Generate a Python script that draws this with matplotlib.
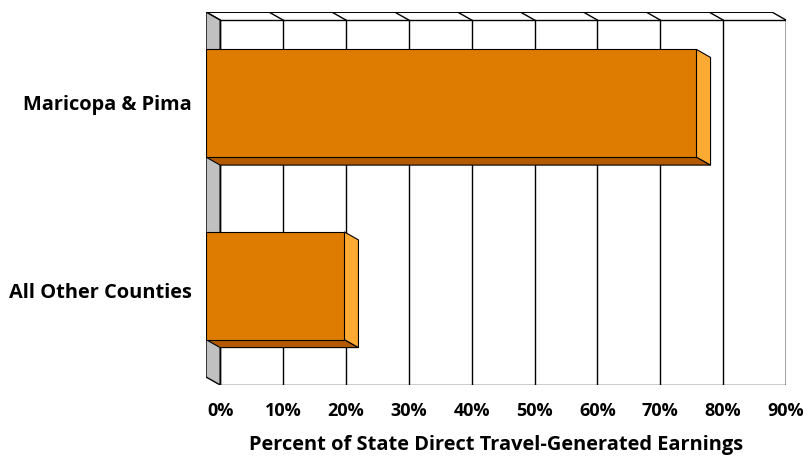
import matplotlib.pyplot as plt
from matplotlib.patches import Polygon, Rectangle

# share of state direct travel-generated earnings (%)
categories = ['All Other Counties', 'Maricopa & Pima']
shares = [22, 78]
ticks = [0, 10, 20, 30, 40, 50, 60, 70, 80, 90]
tick_labels = ['0%', '10%', '20%', '30%', '40%', '50%', '60%', '70%', '80%', '90%']

FRONT = '#DD7C00'
SIDE = '#FFAA33'
BOTTOM = '#B35A00'
WALL = '#C0C0C0'

plt.rcParams['font.family'] = ['Open Sans', 'DejaVu Sans']

fig = plt.figure(figsize=(8.11, 4.58), dpi=100)
# axes spans the front plane plus the depth offset to the back wall
ax = fig.add_axes([206 / 811, 1 - 385 / 458, 580 / 811, 373 / 458])

dx = 2.25       # depth offset in % units
dy = 0.044      # depth offset in category units (back is lower)
xmax = 90
ytop = 2.0
bar_h = 0.59
fs = 14.4

ax.set_xlim(0, xmax + dx)
ax.set_ylim(-dy, ytop)
ax.axis('off')

line = dict(color='black', lw=1.0)

# back wall and gridlines
ax.add_patch(Rectangle((dx, -dy), xmax, ytop, facecolor='white', edgecolor='black', lw=1.0, zorder=1))
for t in ticks:
    ax.plot([t + dx, t + dx], [-dy, ytop - dy], zorder=2, **line)
    # slanted gridline on the top strip
    ax.plot([t, t + dx], [ytop, ytop - dy], zorder=2, **line)
ax.plot([0, xmax], [ytop, ytop], color='black', lw=1.4, zorder=2)

# left wall
ax.add_patch(Polygon([(0, 0), (0, ytop), (dx, ytop - dy), (dx, -dy)],
                     facecolor=WALL, edgecolor='black', lw=1.0, zorder=3))

# 3d bars
for i, v in enumerate(shares):
    b = i + 0.5 - bar_h / 2
    t = i + 0.5 + bar_h / 2
    ax.add_patch(Polygon([(0, b), (v, b), (v + dx, b - dy), (dx, b - dy)],
                         facecolor=BOTTOM, edgecolor='black', lw=0.8, zorder=4))
    ax.add_patch(Polygon([(v, b), (v, t), (v + dx, t - dy), (v + dx, b - dy)],
                         facecolor=SIDE, edgecolor='black', lw=0.8, zorder=4))
    ax.add_patch(Rectangle((0, b), v, bar_h, facecolor=FRONT, edgecolor='black', lw=0.8, zorder=5))

# tick labels under the back wall
for t, lab in zip(ticks, tick_labels):
    ax.text(t + dx, -0.186, lab, ha='center', va='center', fontsize=13, fontweight='bold')

label_shift = [-0.04, -0.01]
for i, c in enumerate(categories):
    ax.text(-2.2, i + 0.5 + label_shift[i], c,
            ha='right', va='center', fontsize=fs, fontweight='bold')

ax.text(0.5, -0.161, 'Percent of State Direct Travel-Generated Earnings', transform=ax.transAxes,
        ha='center', va='center', fontsize=fs, fontweight='bold')

fig.savefig('out.png', dpi=100)
